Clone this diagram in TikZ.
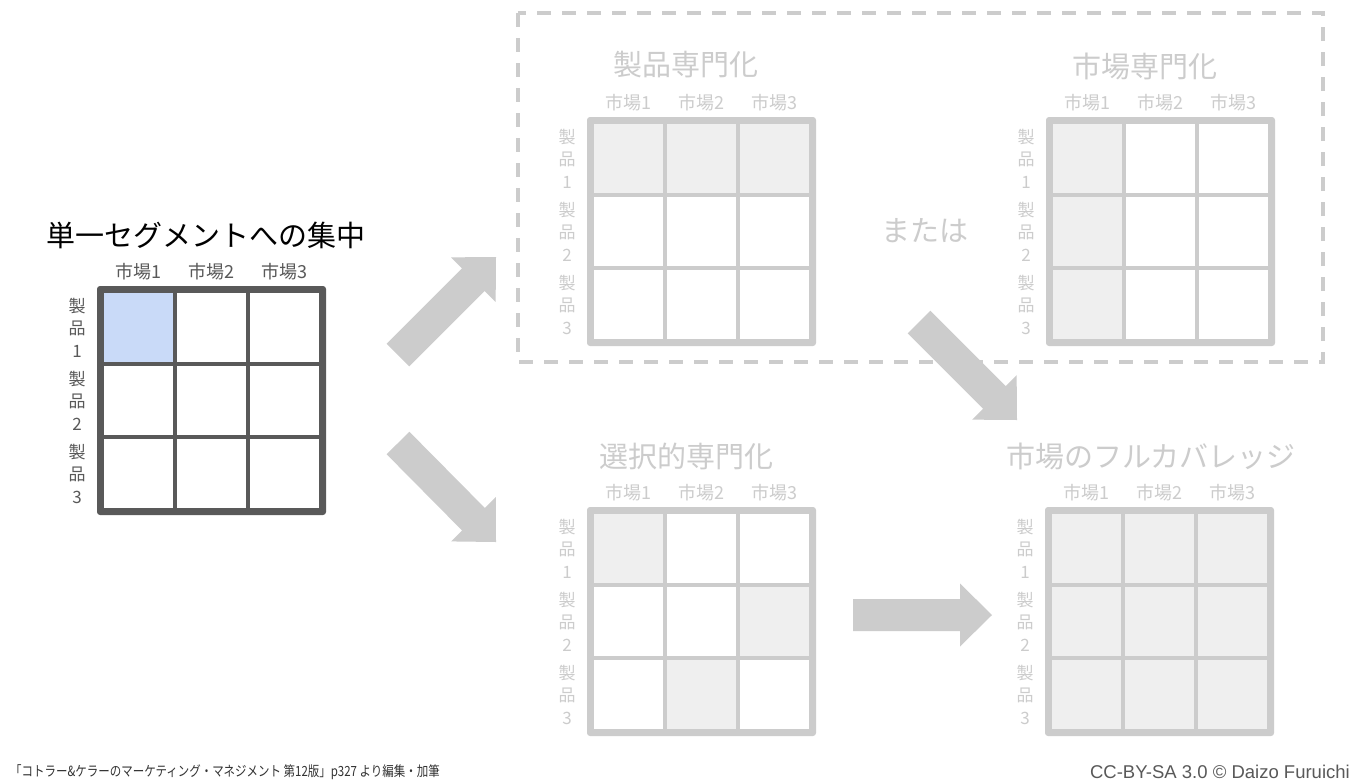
\documentclass[tikz,border=0pt]{standalone}
\usepackage{fontspec}
\setmainfont{Noto Sans CJK JP}
\newfontfamily\latinfont{Liberation Sans}
\newfontfamily\footfont[FakeStretch=0.82]{Noto Sans CJK JP}
\usetikzlibrary{calc}
\definecolor{darkgrid}{HTML}{595959}
\definecolor{fadegrid}{HTML}{CCCCCC}
\definecolor{lightcell}{HTML}{EFEFEF}
\definecolor{bluecell}{HTML}{C9DAF8}
\definecolor{arrowgray}{HTML}{CCCCCC}
\definecolor{footdark}{HTML}{333333}
\tikzset{
  gridframe/.style={minimum size=229pt, inner sep=0pt, outer sep=0pt, rounded corners=3pt},
  titletext/.style={font=\fontsize{29pt}{34pt}\selectfont, inner sep=0pt},
  collabel/.style={font=\fontsize{18pt}{20pt}\selectfont, inner sep=0pt},
  rowlabel/.style={font=\fontsize{17pt}{22.5pt}\selectfont, align=center, inner sep=0pt},
  dashbox/.style={draw=fadegrid, line width=4pt, dash pattern=on 14pt off 11pt},
}
\newcommand\segrid[6]{%
  \node[gridframe, fill=#4, anchor=north west] (#1) at (#2,#3) {};
  \foreach \r in {0,1,2}{\foreach \c in {0,1,2}{%
    \fill[white] ({#2+7+73*\c},{#3+7+73*\r}) rectangle ++(69,69);}}
  \foreach \r/\c in {#5}{%
    \fill[#6] ({#2+7+73*\c},{#3+7+73*\r}) rectangle ++(69,69);}
  \foreach \c in {0,1,2}{\pgfmathtruncatemacro\nn{\c+1}%
    \node[collabel, text=#4] (#1-c\c) at ({#2+41.5+73*\c},{#3-14}) {市場\nn};}
  \foreach \r in {0,1,2}{\pgfmathtruncatemacro\nn{\r+1}%
    \node[rowlabel, text=#4] (#1-r\r) at ({#2-20},{#3+41.5+73*\r}) {製\\品\\\nn};}
}
\newcommand\blockarrow[2]{%
  \coordinate (hb) at ($(#2)!32pt!(#1)$);
  \fill[arrowgray] ($(#1)!16pt!90:(#2)$) -- ($(hb)!16pt!90:(#2)$) -- ($(hb)!31.5pt!90:(#2)$)
    -- (#2) -- ($(hb)!31.5pt!-90:(#2)$) -- ($(hb)!16pt!-90:(#2)$) -- ($(#1)!16pt!-90:(#2)$) -- cycle;
}
\begin{document}
\begin{tikzpicture}[x=1pt, y=-1pt]
\useasboundingbox (0,0) rectangle (1360,780);
\fill[white] (0,0) rectangle (1360,780);

% dashed group box
\draw[dashbox] (518,13) rectangle (1323,362);

% grids
\segrid{g0}{97}{286}{darkgrid}{0/0}{bluecell}
\segrid{g1}{587}{117}{fadegrid}{0/0,0/1,0/2}{lightcell}
\segrid{g2}{1046}{117}{fadegrid}{0/0,1/0,2/0}{lightcell}
\segrid{g3}{587}{507}{fadegrid}{0/0,1/2,2/1}{lightcell}
\segrid{g4}{1045}{507}{fadegrid}{0/0,0/1,0/2,1/0,1/1,1/2,2/0,2/1,2/2}{lightcell}

% titles
\node[titletext, text=black] (t0) at (206,235) {単一セグメントへの集中};
\node[titletext, text=fadegrid] (t1) at (686,65) {製品専門化};
\node[titletext, text=fadegrid] (t2) at (1145,66) {市場専門化};
\node[titletext, text=fadegrid] (t3) at (686,456) {選択的専門化};
\node[titletext, text=fadegrid] (t4) at (1151,456) {市場のフルカバレッジ};
\node[titletext, text=fadegrid] (or) at (925,231) {または};

% block arrows
\coordinate (a1t) at (398,355); \coordinate (a1h) at (496,257);
\coordinate (a2t) at (398,443); \coordinate (a2h) at (496,542);
\coordinate (a3t) at (919,322); \coordinate (a3h) at (1017,420);
\coordinate (a4t) at (853,615); \coordinate (a4h) at (992,615);
\blockarrow{a1t}{a1h}
\blockarrow{a2t}{a2h}
\blockarrow{a3t}{a3h}
\blockarrow{a4t}{a4h}

% footer
\node[anchor=west, font=\footfont\fontsize{14pt}{16pt}\selectfont, text=footdark, inner sep=0pt] (src) at (10,772)
  {「コトラー\&ケラーのマーケティング・マネジメント 第12版」p327 より編集・加筆};
\node[anchor=east, font=\latinfont\fontsize{18.5pt}{20pt}\selectfont, text=darkgrid, inner sep=0pt] (lic) at (1350,772)
  {CC-BY-SA 3.0 © Daizo Furuichi};
\end{tikzpicture}
\end{document}
